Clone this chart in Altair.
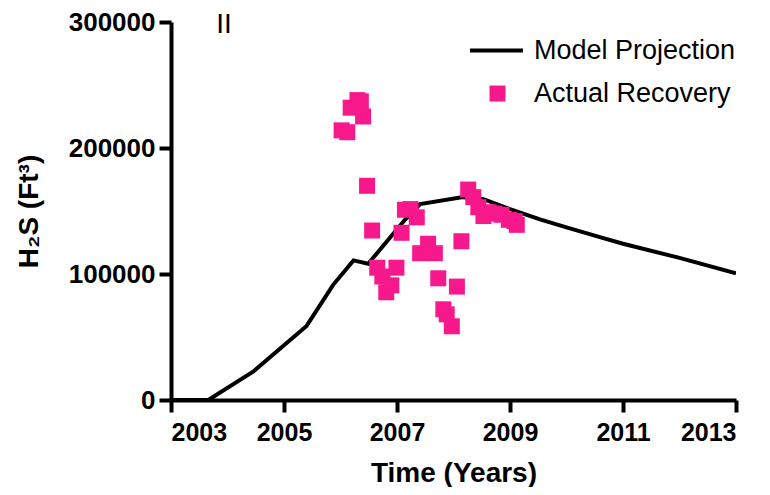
import altair as alt
import pandas as pd

# Model projection curve
model_year = [2003.0, 2003.66, 2004.46, 2005.40, 2005.87, 2006.23, 2006.49, 2007.14,
              2007.41, 2008.17, 2008.53, 2009.0, 2009.53, 2010.0, 2010.53, 2011.0,
              2012.0, 2013.0]
model_h2s = [0, 0, 22700, 58800, 91400, 110800, 108100, 143000,
             155500, 161000, 159400, 151500, 143300, 137000, 130000, 124000,
             112800, 100500]

# Actual recovery points
actual_year = [2006.02, 2006.12, 2006.18, 2006.30, 2006.36, 2006.40,
               2006.47, 2006.56, 2006.65, 2006.74, 2006.81, 2006.90, 2006.99,
               2007.08, 2007.14, 2007.24, 2007.35,
               2007.41, 2007.55, 2007.67, 2007.73, 2007.82, 2007.88, 2007.97,
               2008.06, 2008.14, 2008.26, 2008.35, 2008.44, 2008.53, 2008.62,
               2008.72, 2008.85, 2008.98, 2009.08, 2009.12]
actual_h2s = [214000, 212500, 232000, 238000, 237000, 225000,
              170000, 134500, 105000, 98000, 85500, 91000, 105000,
              132700, 151000, 151500, 145000,
              116500, 124000, 116500, 96600, 72000, 68000, 58500,
              90000, 126000, 167000, 161000, 153000, 146000, 149000,
              148000, 147000, 143000, 142000, 139000]

x_ticks = [2003, 2005, 2007, 2009, 2011, 2013]
y_ticks = [0, 100000, 200000, 300000]
panel_label = ["II"]

FONT = "Liberation Sans"
PINK = "#F7188C"

model_df = pd.DataFrame({"year": model_year, "h2s": model_h2s, "series": "Model Projection"})
actual_df = pd.DataFrame({"year": actual_year, "h2s": actual_h2s, "series": "Actual Recovery"})
label_df = pd.DataFrame({"txt": panel_label})

x_enc = alt.X("year:Q", scale=alt.Scale(domain=[2003, 2013], nice=False, zero=False),
              axis=alt.Axis(values=x_ticks, format="d", title="Time (Years)", grid=False))
y_enc = alt.Y("h2s:Q", scale=alt.Scale(domain=[0, 300000], nice=False),
              axis=alt.Axis(values=y_ticks, format="d", title="H₂S (Ft³)", grid=False))

line = alt.Chart(model_df).mark_line(strokeWidth=4, clip=True).encode(
    x=x_enc, y=y_enc,
    color=alt.Color("series:N",
                    scale=alt.Scale(domain=["Model Projection"], range=["black"]),
                    legend=alt.Legend(title=None, orient="none", legendX=297, legendY=0,
                                      symbolType="stroke", symbolSize=2809,
                                      symbolStrokeWidth=4, labelOffset=9,
                                      labelFontSize=27, labelFont=FONT, labelLimit=400,
                                      padding=0)),
)

points = alt.Chart(actual_df).mark_square(size=256, opacity=1, filled=True).encode(
    x="year:Q", y="h2s:Q",
    color=alt.Color("series:N",
                    scale=alt.Scale(domain=["Actual Recovery"], range=[PINK]),
                    legend=alt.Legend(title=None, orient="none", legendX=313, legendY=58,
                                      symbolType="square", symbolSize=256,
                                      symbolStrokeWidth=0, symbolOpacity=1,
                                      labelOffset=23,
                                      labelFontSize=27, labelFont=FONT, labelLimit=400,
                                      padding=0)),
)

label = alt.Chart(label_df).mark_text(font=FONT, fontSize=28, align="center",
                                      baseline="middle").encode(
    text="txt:N", x=alt.value(53), y=alt.value(3))

chart = alt.layer(line, points, label).resolve_scale(color="independent").properties(
    width=565, height=378,
    autosize=alt.AutoSizeParams(type="none"),
    padding={"left": 163, "top": 14, "right": 26, "bottom": 87},
).configure_view(stroke=None).configure_axis(
    domainColor="black", domainWidth=4, tickColor="black", tickWidth=4, tickSize=12,
    labelFont=FONT, labelFontSize=25, labelFontWeight="bold", labelColor="black",
    titleFont=FONT, titleFontSize=28, titleFontWeight="bold", titleColor="black",
    labelPadding=4,
).configure_axisX(titlePadding=14, labelPadding=8).configure_axisY(
    titlePadding=25, labelFontSize=26, labelPadding=4)

chart.save("out.html", embed_options={"renderer": "svg", "actions": False})
